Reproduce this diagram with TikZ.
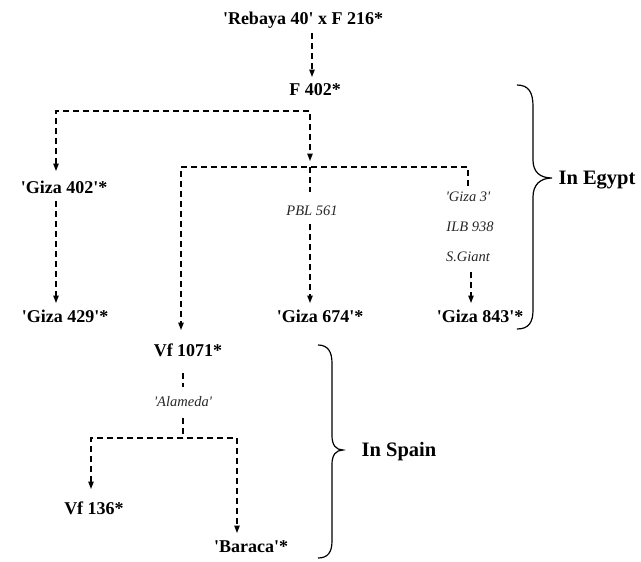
\documentclass[tikz,border=0pt]{standalone}
\usepackage{fontspec}
\setmainfont{Liberation Serif}[Ligatures=TeXOff]
\usetikzlibrary{arrows.meta}
\begin{document}
\begin{tikzpicture}[x=1pt,y=-1pt,
  lbl/.style={font=\bfseries\fontsize{18}{20}\selectfont, inner sep=0pt},
  via/.style={font=\itshape\fontsize{14.5}{16}\selectfont, text=black!85, inner sep=0pt},
  big/.style={font=\bfseries\fontsize{20.5}{22}\selectfont, inner sep=0pt},
  dl/.style={line width=1.2pt, dash pattern=on 6pt off 4pt},
  tip/.style={-{Triangle[length=7.5pt,width=5.5pt]}},
  both/.style={{Triangle[length=7.5pt,width=5.5pt]}-{Triangle[length=7.5pt,width=5.5pt]}},
  brc/.style={line width=1.2pt}]
\useasboundingbox (0,0) rectangle (641,562);

% nodes
\node[lbl] (reb) at (303,20) {'Rebaya 40' x F 216*};
\node[lbl] (f402) at (315,90) {F 402*};
\node[lbl] (g402) at (64,187) {'Giza 402'*};
\node[lbl] (g429) at (65,316) {'Giza 429'*};
\node[lbl] (g674) at (320,316) {'Giza 674'*};
\node[lbl] (g843) at (480,316) {'Giza 843'*};
\node[lbl] (vf1071) at (188,350) {Vf 1071*};
\node[lbl] (vf136) at (94,508) {Vf 136*};
\node[lbl] (bar) at (251,547) {'Baraca'*};
\node[via] (pbl) at (312,211) {PBL 561};
\node[via] (giza3) at (468,197) {'Giza 3'};
\node[via] (ilb) at (470,227) {ILB 938};
\node[via] (sg) at (468,257) {S.Giant};
\node[via] (ala) at (183,402) {'Alameda'};
\node[big] (egy) at (597,180) {In Egypt};
\node[big] (spa) at (399,452) {In Spain};

% coordinates
\coordinate (a1) at (312,33);  \coordinate (a2) at (312,77);
\coordinate (b1) at (56,171);  \coordinate (b2) at (56,111);
\coordinate (b3) at (310,111); \coordinate (b4) at (310,161);
\coordinate (c1) at (181,330); \coordinate (c2) at (181,167);
\coordinate (c3) at (468,167); \coordinate (c4) at (468,186);
\coordinate (p1) at (310,167); \coordinate (p2) at (310,192);
\coordinate (p3) at (310,224); \coordinate (p4) at (310,303);
\coordinate (s1) at (471,272); \coordinate (s2) at (471,303);
\coordinate (g1) at (56,201);  \coordinate (g2) at (56,303);
\coordinate (v1) at (183,373); \coordinate (v2) at (183,387);
\coordinate (v3) at (183,418); \coordinate (v4) at (183,438);
\coordinate (w1) at (91,489);  \coordinate (w2) at (91,438);
\coordinate (w3) at (237,438); \coordinate (w4) at (237,533);

% connectors
\draw[dl,tip] (a1) -- (a2);
\draw[dl,both] (b1) -- (b2) -- (b3) -- (b4);
\draw[dl,tip] (g1) -- (g2);
\draw[dl,tip] (c4) -- (c3) -- (c2) -- (c1);
\draw[dl] (p1) -- (p2);
\draw[dl,tip] (p3) -- (p4);
\draw[dl,tip] (s1) -- (s2);
\draw[dl] (v1) -- (v2);
\draw[dl] (v3) -- (v4);
\draw[dl,both] (w1) -- (w2) -- (w3) -- (w4);

% braces
\draw[brc] (517,85) .. controls (529,85) and (533,93) .. (533,106) -- (533,160)
  .. controls (533,172) and (540,178) .. (552,178)
  .. controls (540,178) and (533,185) .. (533,197) -- (533,310)
  .. controls (533,322) and (529,329) .. (517,329);
\draw[brc] (318,345) .. controls (328,345) and (332,352) .. (332,363) -- (332,436)
  .. controls (332,445) and (336,450) .. (343,450)
  .. controls (336,450) and (332,455) .. (332,464) -- (332,541)
  .. controls (332,552) and (328,558) .. (318,558);
\end{tikzpicture}
\end{document}
